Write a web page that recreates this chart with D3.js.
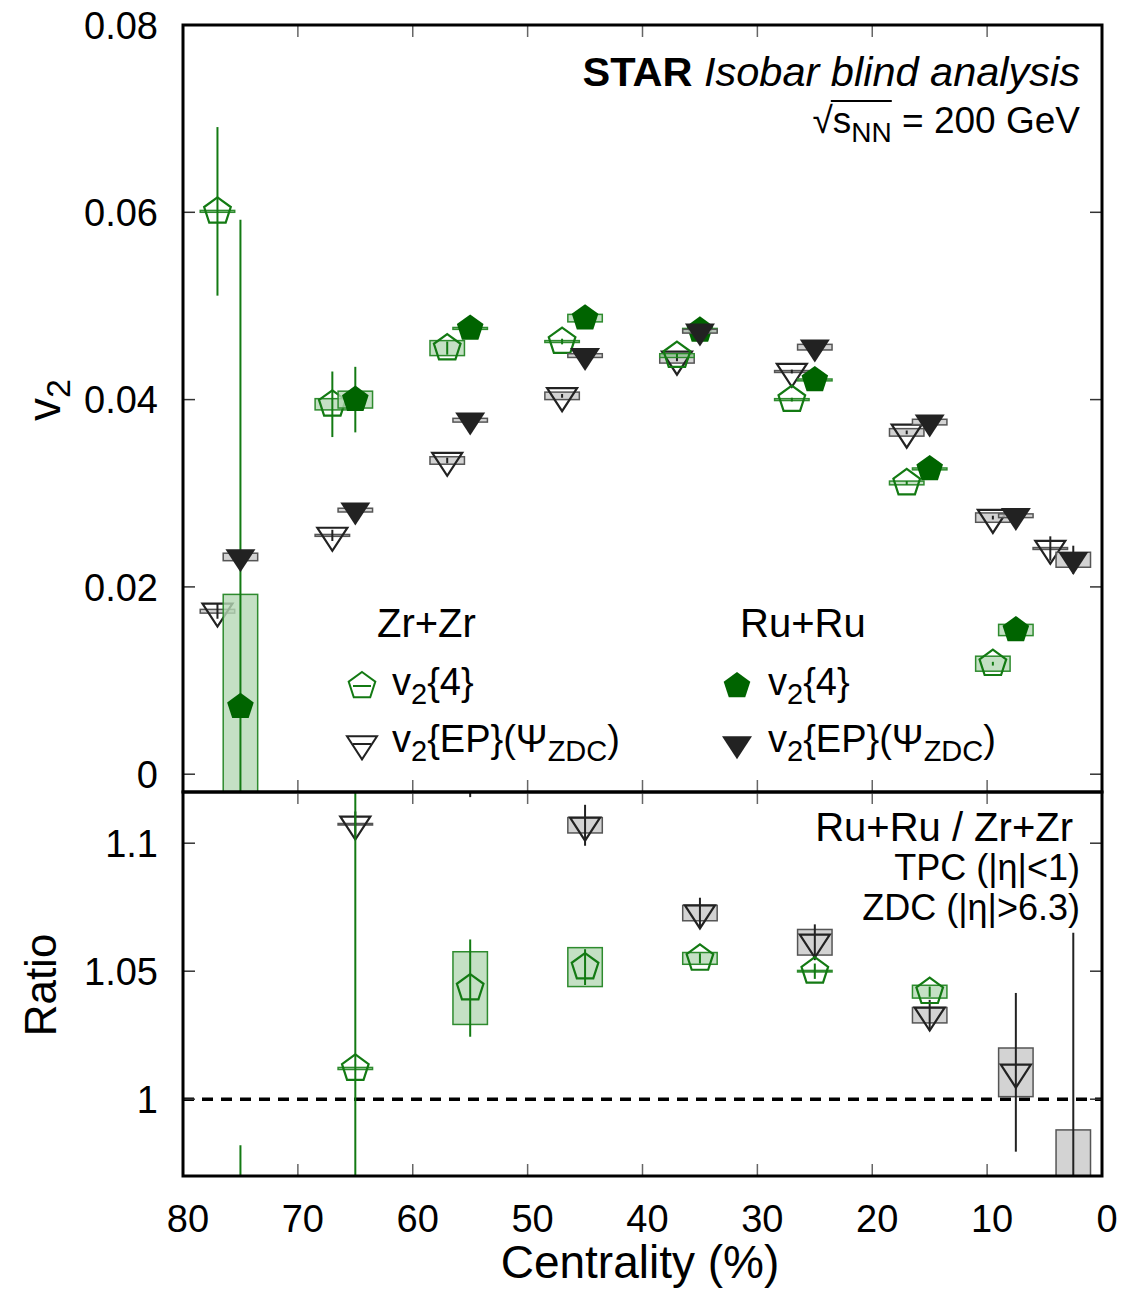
<!DOCTYPE html>
<html>
<head>
<meta charset="utf-8">
<script src="https://cdn.jsdelivr.net/npm/d3@7"></script>
<style>
  body { margin: 0; background: #fff; }
  svg { font-family: "Liberation Sans", Arial, Helvetica, sans-serif; }
</style>
</head>
<body>
<svg width="1130" height="1289"></svg>
<script>
// ---- data (centrality %, value, stat error, sys error) ----
const zrCent = [77, 67, 57, 47, 37, 27, 17, 9.5];
const zrV24 = [0.0601, 0.0395, 0.0455, 0.0462, 0.0447, 0.0400, 0.0311, 0.0118];
const zrV24Stat = [0.0090, 0.0035, 0.0007, 0.0003, 0.0002, 0.0002, 0.0002, 0.0002];
const zrV24Sys = [0.0001, 0.0006, 0.0008, 0.0001, 0.0002, 0.0001, 0.0002, 0.0008];

const ruCent = [75, 65, 55, 45, 35, 25, 15, 7.5];
const ruV24 = [0.0072, 0.0400, 0.0476, 0.0487, 0.0474, 0.0421, 0.0326, 0.0154];
const ruV24Stat = [0.0520, 0.0035, 0.0003, 0.0002, 0.0002, 0.0002, 0.0002, 0.0002];
const ruV24Sys = [0.0120, 0.0009, 0.0001, 0.0004, 0.0002, 0.0001, 0.0001, 0.0006];

const zrEpCent = [77, 67, 57, 47, 37, 27, 17, 9.5, 4.5];
const zrEp = [0.0174, 0.0255, 0.0335, 0.0404, 0.0443, 0.0430, 0.0365, 0.0274, 0.0241];
const zrEpStat = [0.0008, 0.0006, 0.0003, 0.0002, 0.0002, 0.0002, 0.0002, 0.0002, 0.0013];
const zrEpSys = [0.0002, 0.0001, 0.0004, 0.0004, 0.0004, 0.0001, 0.0004, 0.0005, 0.0001];

const ruEpCent = [75, 65, 55, 45, 35, 25, 15, 7.5, 2.5];
const ruEp = [0.0232, 0.0282, 0.0378, 0.0447, 0.0473, 0.0456, 0.0376, 0.0276, 0.0229];
const ruEpStat = [0.0003, 0.0002, 0.0002, 0.0002, 0.0002, 0.0002, 0.0002, 0.0002, 0.0015];
const ruEpSys = [0.0004, 0.0002, 0.0002, 0.0002, 0.0002, 0.0003, 0.0003, 0.0002, 0.0008];

// Ru+Ru / Zr+Zr ratios
const ratV24Cent = [75, 65, 55, 45, 35, 25, 15];
const ratV24 = [0.12, 1.012, 1.0434, 1.0516, 1.0550, 1.0500, 1.0420];
const ratV24Stat = [0.862, 0.30, 0.019, 0.007, 0.002, 0.003, 0.002];
const ratV24Sys = [0.10, 0.0004, 0.0142, 0.0076, 0.0023, 0.0003, 0.0025];

const ratEpCent = [65, 55, 45, 35, 25, 15, 7.5, 2.5];
const ratEp = [1.1074, 1.128, 1.107, 1.0727, 1.0613, 1.0328, 1.0105, 0.955];
const ratEpStat = [0.005, 0.010, 0.008, 0.006, 0.007, 0.006, 0.031, 0.110];
const ratEpSys = [0.0003, 0.003, 0.003, 0.003, 0.005, 0.003, 0.0095, 0.033];

const xTicks = [80, 70, 60, 50, 40, 30, 20, 10, 0];
const topTicks = [0, 0.02, 0.04, 0.06, 0.08];
const botTicks = [1, 1.05, 1.1];

// ---- layout ----
const svg = d3.select("svg");
const left = 183, right = 1102;
const topY0 = 25, topY1 = 792, botY1 = 1176;
const GREEN = "#006400", GREEN_LINE = "#137a13", DARK = "#222";
const sysHalfW = 1.5; // centrality units

const x = d3.scaleLinear().domain([80, 0]).range([left, right]);
const yTop = d3.scaleLinear().domain([-0.0019, 0.08]).range([topY1, topY0]);
const yBot = d3.scaleLinear().domain([0.97, 1.12]).range([botY1, topY1]);

const defs = svg.append("defs");
defs.append("clipPath").attr("id", "clipTop").append("rect")
  .attr("x", left).attr("y", topY0).attr("width", right - left).attr("height", topY1 - topY0);
defs.append("clipPath").attr("id", "clipBot").append("rect")
  .attr("x", left).attr("y", topY1).attr("width", right - left).attr("height", botY1 - topY1);

function pentagon(r) {
  const pts = d3.range(5).map(i => {
    const a = -Math.PI / 2 + i * 2 * Math.PI / 5;
    return [r * Math.cos(a), r * Math.sin(a)];
  });
  return "M" + pts.map(p => p.join(",")).join("L") + "Z";
}
function triDown(w, h) {
  // centroid at origin
  return `M${-w / 2},${-h / 3}L${w / 2},${-h / 3}L0,${2 * h / 3}Z`;
}
const PENT = pentagon(14);
const TRI = triDown(30, 23);

// axis ticks and frame for a panel
function panelFrame(y, y0, y1, ticks, fmt) {
  const g = svg.append("g");
  const tl = 12;
  xTicks.forEach(t => {
    if (t === 80 || t === 0) return;
    g.append("line").attr("x1", x(t)).attr("x2", x(t)).attr("y1", y0).attr("y2", y0 + tl)
      .attr("stroke", "#666").attr("stroke-width", 1.5);
    g.append("line").attr("x1", x(t)).attr("x2", x(t)).attr("y1", y1).attr("y2", y1 - tl)
      .attr("stroke", "#666").attr("stroke-width", 1.5);
  });
  ticks.forEach(t => {
    g.append("line").attr("x1", left).attr("x2", left + tl).attr("y1", y(t)).attr("y2", y(t))
      .attr("stroke", "#333").attr("stroke-width", 1.5);
    g.append("line").attr("x1", right).attr("x2", right - tl).attr("y1", y(t)).attr("y2", y(t))
      .attr("stroke", "#333").attr("stroke-width", 1.5);
    g.append("text").attr("x", left - 25).attr("y", y(t)).attr("dy", "0.36em")
      .attr("text-anchor", "end").attr("font-size", 38).text(fmt(t));
  });
  g.append("rect").attr("x", left).attr("y", y0).attr("width", right - left).attr("height", y1 - y0)
    .attr("fill", "none").attr("stroke", "#000").attr("stroke-width", 3);
}

function drawSeries(g, y, cents, vals, stat, sys, opt) {
  const data = cents.map((c, i) => ({ c, v: vals[i], s: stat[i], e: sys[i] }));
  // systematic boxes
  g.append("g").selectAll("rect").data(data).join("rect")
    .attr("x", d => x(d.c + sysHalfW))
    .attr("width", d => x(d.c - sysHalfW) - x(d.c + sysHalfW))
    .attr("y", d => y(d.v + d.e))
    .attr("height", d => Math.max(1, y(d.v - d.e) - y(d.v + d.e)))
    .attr("fill", opt.boxFill).attr("fill-opacity", 0.8)
    .attr("stroke", opt.boxStroke).attr("stroke-width", 1.5);
  // stat bars
  g.append("g").selectAll("line").data(data).join("line")
    .attr("x1", d => x(d.c)).attr("x2", d => x(d.c))
    .attr("y1", d => y(d.v - d.s)).attr("y2", d => y(d.v + d.s))
    .attr("stroke", opt.line).attr("stroke-width", 2);
  // markers
  g.append("g").selectAll("path").data(data).join("path")
    .attr("d", opt.shape)
    .attr("transform", d => `translate(${x(d.c)},${y(d.v)})`)
    .attr("fill", opt.filled ? opt.color : "none")
    .attr("stroke", opt.filled ? "none" : opt.color)
    .attr("stroke-width", 2.2);
}

const openPent = { shape: PENT, filled: false, color: GREEN_LINE, line: GREEN_LINE, boxFill: "#b5d8b5", boxStroke: "#2e8b2e" };
const fullPent = { shape: PENT, filled: true, color: GREEN, line: GREEN_LINE, boxFill: "#b5d8b5", boxStroke: "#2e8b2e" };
const openTri = { shape: TRI, filled: false, color: DARK, line: DARK, boxFill: "#c8c8c8", boxStroke: "#555" };
const fullTri = { shape: TRI, filled: true, color: DARK, line: DARK, boxFill: "#c8c8c8", boxStroke: "#555" };

// ---- top panel ----
const gTop = svg.append("g").attr("clip-path", "url(#clipTop)");
drawSeries(gTop, yTop, zrEpCent, zrEp, zrEpStat, zrEpSys, openTri);
drawSeries(gTop, yTop, zrCent, zrV24, zrV24Stat, zrV24Sys, openPent);
drawSeries(gTop, yTop, ruCent, ruV24, ruV24Stat, ruV24Sys, fullPent);
drawSeries(gTop, yTop, ruEpCent, ruEp, ruEpStat, ruEpSys, fullTri);

// ---- bottom panel ----
const gBot = svg.append("g").attr("clip-path", "url(#clipBot)");
gBot.append("line").attr("x1", left).attr("x2", right).attr("y1", yBot(1)).attr("y2", yBot(1))
  .attr("stroke", "#000").attr("stroke-width", 3.5).attr("stroke-dasharray", "11,8");
drawSeries(gBot, yBot, ratEpCent, ratEp, ratEpStat, ratEpSys, openTri);
drawSeries(gBot, yBot, ratV24Cent, ratV24, ratV24Stat, ratV24Sys, openPent);

panelFrame(yTop, topY0, topY1, topTicks, d => d === 0 ? "0" : d3.format(".2f")(d));
panelFrame(yBot, topY1, botY1, botTicks, d => d === 1 ? "1" : d === 1.1 ? "1.1" : "1.05");

// x tick labels
svg.append("g").selectAll("text").data(xTicks).join("text")
  .attr("x", d => x(d) + 5).attr("y", 1232).attr("text-anchor", "middle")
  .attr("font-size", 38).text(d => d);

// axis titles
svg.append("text").attr("x", 640).attr("y", 1278).attr("text-anchor", "middle")
  .attr("font-size", 46).text("Centrality (%)");

const v2Lab = svg.append("text").attr("transform", "translate(60,400) rotate(-90)")
  .attr("text-anchor", "middle").attr("font-size", 46);
v2Lab.append("tspan").text("v");
v2Lab.append("tspan").attr("dy", 10).attr("font-size", 34).text("2");

svg.append("text").attr("transform", "translate(56,985) rotate(-90)")
  .attr("text-anchor", "middle").attr("font-size", 44).text("Ratio");

// ---- annotations ----
const star = svg.append("text").attr("x", 1080).attr("y", 86).attr("text-anchor", "end").attr("font-size", 41.5);
star.append("tspan").attr("font-weight", "bold").text("STAR ");
star.append("tspan").attr("font-style", "italic").text("Isobar blind analysis");

const sqrtT = svg.append("text").attr("x", 1080).attr("y", 133).attr("text-anchor", "end").attr("font-size", 37);
sqrtT.append("tspan").text("√s");
sqrtT.append("tspan").attr("dy", 9).attr("font-size", 28).text("NN");
sqrtT.append("tspan").attr("dy", -9).text(" = 200 GeV");
{
  const n = sqrtT.node();
  const x0 = n.getStartPositionOfChar(1).x - 2;
  const x1 = n.getEndPositionOfChar(3).x;
  svg.append("line").attr("x1", x0).attr("x2", x1).attr("y1", 101).attr("y2", 101)
    .attr("stroke", "#000").attr("stroke-width", 1.8);
}

svg.append("text").attr("x", 1073).attr("y", 841).attr("text-anchor", "end").attr("font-size", 40).text("Ru+Ru / Zr+Zr");
svg.append("text").attr("x", 1080).attr("y", 880).attr("text-anchor", "end").attr("font-size", 36).text("TPC (|η|<1)");
svg.append("text").attr("x", 1080).attr("y", 920).attr("text-anchor", "end").attr("font-size", 36).text("ZDC (|η|>6.3)");

// ---- legend ----
function v2Label(tx, ty, kind) {
  const t = svg.append("text").attr("x", tx).attr("y", ty).attr("font-size", 38);
  t.append("tspan").text("v");
  t.append("tspan").attr("dy", 9).attr("font-size", 29).text("2");
  if (kind === "4") {
    t.append("tspan").attr("dy", -9).text("{4}");
  } else {
    t.append("tspan").attr("dy", -9).text("{EP}(Ψ");
    t.append("tspan").attr("dy", 9).attr("font-size", 29).text("ZDC");
    t.append("tspan").attr("dy", -9).text(")");
  }
}
function legendMark(cx, cy, opt) {
  svg.append("path").attr("d", opt.shape).attr("transform", `translate(${cx},${cy})`)
    .attr("fill", opt.filled ? opt.color : "none").attr("stroke", opt.filled ? "none" : opt.color)
    .attr("stroke-width", 2);
  if (!opt.filled) {
    svg.append("line").attr("x1", cx - 9).attr("x2", cx + 9).attr("y1", cy).attr("y2", cy)
      .attr("stroke", opt.color).attr("stroke-width", 2);
  }
}
svg.append("text").attr("x", 377).attr("y", 637).attr("font-size", 40).text("Zr+Zr");
svg.append("text").attr("x", 740).attr("y", 637).attr("font-size", 40).text("Ru+Ru");
legendMark(362, 686, openPent);
legendMark(362, 744, openTri);
legendMark(737, 686, fullPent);
legendMark(737, 744, fullTri);
v2Label(392, 695, "4");
v2Label(392, 752, "EP");
v2Label(768, 695, "4");
v2Label(768, 752, "EP");
</script>
</body>
</html>
